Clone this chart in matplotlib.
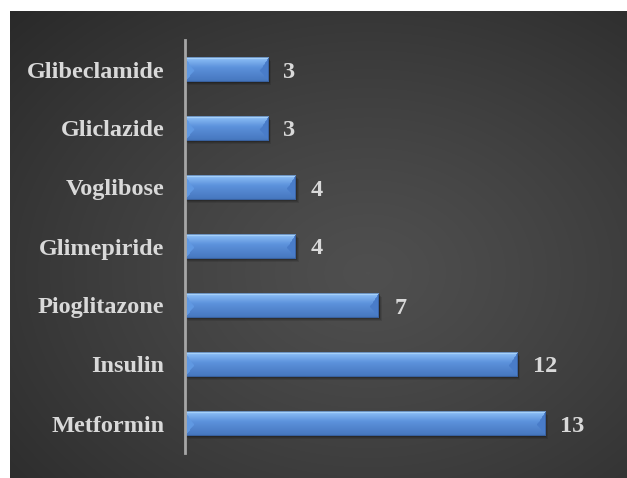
import numpy as np
import matplotlib
matplotlib.use("Agg")
import matplotlib.pyplot as plt
from matplotlib.patches import Rectangle
import matplotlib.transforms as mtransforms

# Number of prescriptions per drug
drugs = ["Metformin", "Insulin", "Pioglitazone", "Glimepiride",
         "Voglibose", "Gliclazide", "Glibeclamide"]
counts = [13, 12, 7, 4, 4, 3, 3]

W, H, DPI = 627, 478, 100
fig = plt.figure(figsize=(W / DPI, H / DPI), dpi=DPI)
fig.patch.set_facecolor("white")

# Dark radial-gradient backdrop
bg_left, bg_top = 10, 11
bg = fig.add_axes([bg_left / W, 0, (W - bg_left) / W, (H - bg_top) / H])
bg.set_axis_off()
gw, gh = W - bg_left, H - bg_top
yy, xx = np.mgrid[0:gh, 0:gw]
cx, cy = 0.58 * gw, 0.56 * gh
r = np.sqrt(((xx - cx) / (0.95 * gw)) ** 2 + ((yy - cy) / (0.95 * gh)) ** 2)
r = np.clip(r, 0, 1)
shade = 0.31 - 0.18 * r ** 1.2
bg.imshow(np.dstack([shade] * 3), aspect="auto", extent=(0, 1, 0, 1), zorder=0)
bg.set_xlim(0, 1)
bg.set_ylim(0, 1)

# Main chart axes
px_per_unit = 27.7
x0_px, ybot_px, ytop_px = 185, 453, 40
xmax = 15
ax = fig.add_axes([x0_px / W, (H - ybot_px) / H,
                   xmax * px_per_unit / W, (ybot_px - ytop_px) / H])
ax.patch.set_alpha(0)
ax.set_xlim(0, xmax)
ax.set_ylim(-0.5, len(drugs) - 0.5)

bar_h = 0.41
bars = ax.barh(range(len(drugs)), counts, height=bar_h, color="#5a8fd6",
               edgecolor="none", zorder=3)


def bevel_image(wpx, hpx, b=9):
    """RGB image of a bevelled blue bar, wpx x hpx pixels."""
    v, u = np.mgrid[0:hpx, 0:wpx].astype(float)
    vy = v + 0.5
    v = vy / hpx  # 0 top -> 1 bottom
    top = np.array([0.66, 0.83, 0.99])
    hi = np.array([0.52, 0.72, 0.95])
    mid = np.array([0.36, 0.57, 0.86])
    bot = np.array([0.27, 0.46, 0.74])
    t = v[..., None]
    img = np.where(t < 0.10, top,
                   np.where(t < 0.42, hi + (mid - hi) * ((t - 0.10) / 0.32),
                            mid + (bot - mid) * ((t - 0.42) / 0.58)))
    # triangular facets at both ends, apex near the vertical middle
    half = hpx * 0.55
    ext = np.where(vy < half, b * vy / half, b * (hpx - vy) / (hpx - half))
    lf = u + 0.5
    rt = wpx - u - 0.5
    left = lf < ext
    right = rt < ext
    img[left] = np.array([0.38, 0.60, 0.89])
    img[right] = np.array([0.29, 0.49, 0.79])
    # thin dark rim
    rim = (vy < 1) | (vy > hpx - 1) | (lf < 1) | (rt < 1)
    img[rim] = 0.55 * img[rim] + 0.45 * np.array([0.16, 0.28, 0.48])
    return np.clip(img, 0, 1)


lab_font = dict(fontsize=17.5, fontweight="bold", family="Liberation Serif",
                color="#d9d9d9")

hpx = int(round(bar_h * (ybot_px - ytop_px) / len(drugs)))
for bar, val in zip(bars, counts):
    x, y = bar.get_x(), bar.get_y()
    w, h = bar.get_width(), bar.get_height()
    # soft drop shadow
    for i, a in enumerate([0.10, 0.12, 0.16, 0.20]):
        off = mtransforms.offset_copy(ax.transData, fig=fig,
                                      x=(4 - i) * 0.7, y=-(4 - i) * 0.9,
                                      units="dots")
        ax.add_patch(Rectangle((x, y), w, h, transform=off, facecolor="black",
                               alpha=a, edgecolor="none", zorder=2))
    im = ax.imshow(bevel_image(int(round(w * px_per_unit)), hpx),
                   extent=(x, x + w, y, y + h), aspect="auto",
                   interpolation="bilinear", zorder=4)
    im.set_clip_path(bar)
    ax.text(val + 0.55, y + h / 2, str(val), va="center_baseline", ha="left",
            zorder=5, **lab_font)

ax.set_yticks(range(len(drugs)))
ax.set_yticklabels(drugs, **lab_font)
for lbl in ax.get_yticklabels():
    lbl.set_verticalalignment("center_baseline")
ax.tick_params(axis="y", length=0, pad=15)
ax.set_xticks([])
for s in ["top", "right", "bottom"]:
    ax.spines[s].set_visible(False)
ax.spines["left"].set_color("#a6a6a6")
ax.spines["left"].set_linewidth(2)
ax.spines["left"].set_zorder(6)

fig.savefig("out.png", dpi=DPI)
